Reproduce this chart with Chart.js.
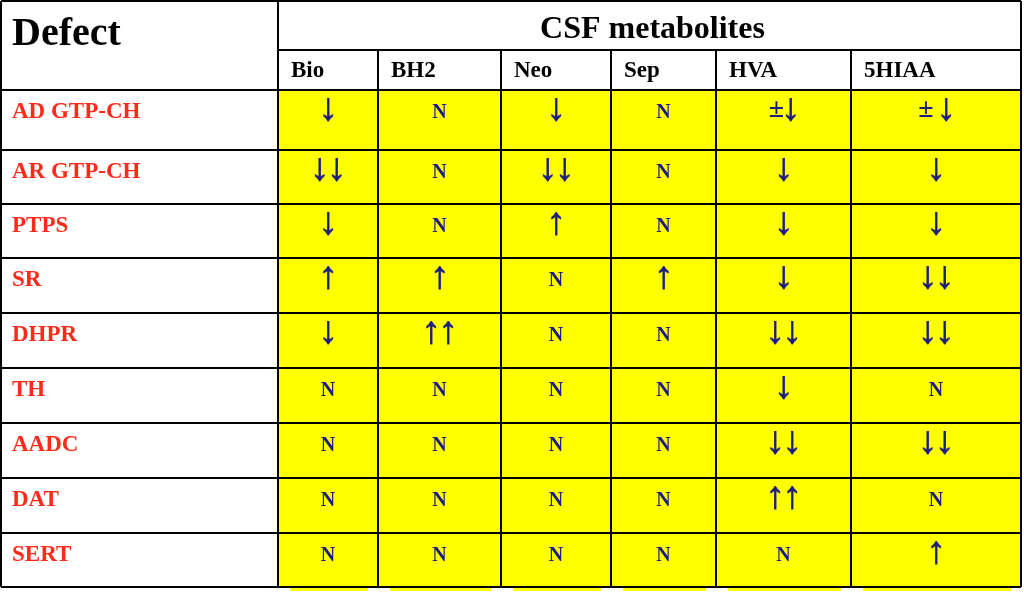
<!DOCTYPE html>
<html>
<head>
<meta charset="utf-8">
<script src="https://cdn.jsdelivr.net/npm/chart.js@4.4.0/dist/chart.umd.min.js"></script>
<style>
  html, body { margin: 0; padding: 0; background: #ffffff; }
  #wrap { width: 1024px; height: 616px; }
</style>
</head>
<body>
<div id="wrap"><canvas id="csfTable" width="1024" height="616"></canvas></div>
<script>
// ==============================
// Data
// ==============================

const title = "CSF metabolites";
const cornerLabel = "Defect";

const defects = ["AD GTP-CH", "AR GTP-CH", "PTPS", "SR", "DHPR", "TH", "AADC", "DAT", "SERT"];
const metabolites = ["Bio", "BH2", "Neo", "Sep", "HVA", "5HIAA"];

const bio  = ["↓", "↓↓", "↓", "↑", "↓", "N", "N", "N", "N"];
const bh2  = ["N", "N", "N", "↑", "↑↑", "N", "N", "N", "N"];
const neo  = ["↓", "↓↓", "↑", "N", "N", "N", "N", "N", "N"];
const sep  = ["N", "N", "N", "↑", "N", "N", "N", "N", "N"];
const hva  = ["±↓", "↓", "↓", "↓", "↓↓", "↓", "↓↓", "↑↑", "N"];
const hiaa = ["± ↓", "↓", "↓", "↓↓", "↓↓", "N", "↓↓", "N", "↑"];

const columns = [bio, bh2, neo, sep, hva, hiaa];

// ==============================
// Layout (canvas units)
// ==============================

const colEdges = [1, 278, 378, 501, 611, 716, 851, 1021];
const rowEdges = [90, 150, 204, 258, 313, 368, 423, 478, 533, 587];
const topEdge = 1;
const subHeaderTop = 50;

const serif = '"Liberation Serif", "Times New Roman", serif';
const navy = "#1c1c86";
const red = "#ff2a1a";
const yellow = "#ffff00";

// one scatter dataset per metabolite, one point per defect row
const datasets = metabolites.map((name, c) => ({
    label: name,
    symbols: columns[c],
    data: defects.map((d, r) => ({
        x: (colEdges[c + 1] + colEdges[c + 2]) / 2,
        y: rowEdges[r] + 28
    })),
    pointRadius: 0,
    pointHoverRadius: 0
}));

// draws one cell symbol: each glyph on its own so arrows can be tall but close
function drawSymbol(ctx, s, cx, baseY) {
    if (s === "N") {
        ctx.font = "bold 20px " + serif;
        ctx.textAlign = "center";
        ctx.fillText(s, cx, baseY);
        return;
    }
    // split into glyphs with center-to-center gaps
    const glyphs = [];
    let gap = 0;
    for (const ch of s) {
        if (ch === " ") { gap += 6; continue; }
        if (glyphs.length) {
            const prev = glyphs[glyphs.length - 1];
            prev.next = (prev.ch === "±" ? 14 : 17) + gap;
        }
        glyphs.push({ ch: ch, next: 0 });
        gap = 0;
    }
    let total = 0;
    glyphs.forEach(g => total += g.next);
    let x = cx - total / 2;

    // size the arrow so it is ~23px tall, centred at baseY - 8
    ctx.font = "bold 100px " + serif;
    const m = ctx.measureText("↓");
    const h100 = m.actualBoundingBoxAscent + m.actualBoundingBoxDescent;
    const size = 23 * 100 / h100;
    ctx.textAlign = "center";
    ctx.strokeStyle = navy;
    ctx.lineWidth = 0.8;
    glyphs.forEach(g => {
        if (g.ch === "±") {
            ctx.font = "bold 28px " + serif;
            ctx.fillText(g.ch, x, baseY - 1);
        } else {
            ctx.font = "bold " + size + "px " + serif;
            const mm = ctx.measureText(g.ch);
            const mid = (mm.actualBoundingBoxAscent - mm.actualBoundingBoxDescent) / 2;
            ctx.fillText(g.ch, x, baseY - 8.5 + mid);
            ctx.strokeText(g.ch, x, baseY - 8.5 + mid);
        }
        x += g.next;
    });
}

// ==============================
// Table plugin
// ==============================

const tablePlugin = {
    id: "tablePlugin",
    beforeDatasetsDraw(chart) {
        const ctx = chart.ctx;
        const xs = chart.scales.x;
        const ys = chart.scales.y;
        const px = v => xs.getPixelForValue(v);
        const py = v => ys.getPixelForValue(v);

        ctx.save();
        ctx.fillStyle = "#ffffff";
        ctx.fillRect(0, 0, chart.width, chart.height);

        // yellow data cells
        ctx.fillStyle = yellow;
        ctx.fillRect(px(colEdges[1]), py(rowEdges[0]), px(colEdges[7]) - px(colEdges[1]), py(rowEdges[9]) - py(rowEdges[0]));

        // yellow bleed under the table
        for (let c = 1; c < 7; c++) {
            const a = px(colEdges[c] + 12);
            const b = px(colEdges[c + 1] - 10);
            ctx.fillRect(a, py(rowEdges[9]), b - a, 4);
        }
        ctx.restore();
    },
    afterDatasetsDraw(chart) {
        const ctx = chart.ctx;
        const xs = chart.scales.x;
        const ys = chart.scales.y;
        const px = v => xs.getPixelForValue(v);
        const py = v => ys.getPixelForValue(v);

        ctx.save();

        // grid lines
        ctx.strokeStyle = "#000000";
        ctx.lineWidth = 2;
        const line = (x1, y1, x2, y2) => {
            ctx.beginPath();
            ctx.moveTo(px(x1), py(y1));
            ctx.lineTo(px(x2), py(y2));
            ctx.stroke();
        };
        line(colEdges[0], topEdge, colEdges[7], topEdge);
        line(colEdges[1], subHeaderTop, colEdges[7], subHeaderTop);
        rowEdges.forEach(y => line(colEdges[0], y, colEdges[7], y));
        line(colEdges[0], topEdge, colEdges[0], rowEdges[9]);
        line(colEdges[1], topEdge, colEdges[1], rowEdges[9]);
        line(colEdges[7], topEdge, colEdges[7], rowEdges[9]);
        for (let c = 2; c < 7; c++) line(colEdges[c], subHeaderTop, colEdges[c], rowEdges[9]);

        // header texts
        ctx.fillStyle = "#000000";
        ctx.textBaseline = "alphabetic";
        ctx.textAlign = "left";
        ctx.font = "bold 40px " + serif;
        ctx.fillText(cornerLabel, px(12), py(45));

        ctx.textAlign = "center";
        ctx.font = "bold 32px " + serif;
        ctx.fillText(title, px((colEdges[1] + colEdges[7]) / 2 + 3), py(38));

        ctx.textAlign = "left";
        ctx.font = "bold 23px " + serif;
        metabolites.forEach((m, c) => ctx.fillText(m, px(colEdges[c + 1] + 13), py(77)));

        // row labels
        ctx.fillStyle = red;
        ctx.font = "bold 23px " + serif;
        defects.forEach((d, r) => ctx.fillText(d, px(12), py(rowEdges[r] + 28)));

        // cell values, placed at the dataset points
        ctx.fillStyle = navy;
        chart.data.datasets.forEach((ds, i) => {
            chart.getDatasetMeta(i).data.forEach((pt, r) => {
                drawSymbol(ctx, ds.symbols[r], pt.x, pt.y);
            });
        });

        ctx.restore();
    }
};

// ==============================
// Chart
// ==============================

new Chart(document.getElementById("csfTable"), {
    type: "scatter",
    data: { datasets: datasets },
    options: {
        responsive: false,
        animation: false,
        events: [],
        layout: { padding: 0 },
        plugins: {
            legend: { display: false },
            tooltip: { enabled: false }
        },
        scales: {
            x: { type: "linear", min: 0, max: 1024, display: false },
            y: { type: "linear", min: 0, max: 616, reverse: true, display: false }
        }
    },
    plugins: [tablePlugin]
});
</script>
</body>
</html>
